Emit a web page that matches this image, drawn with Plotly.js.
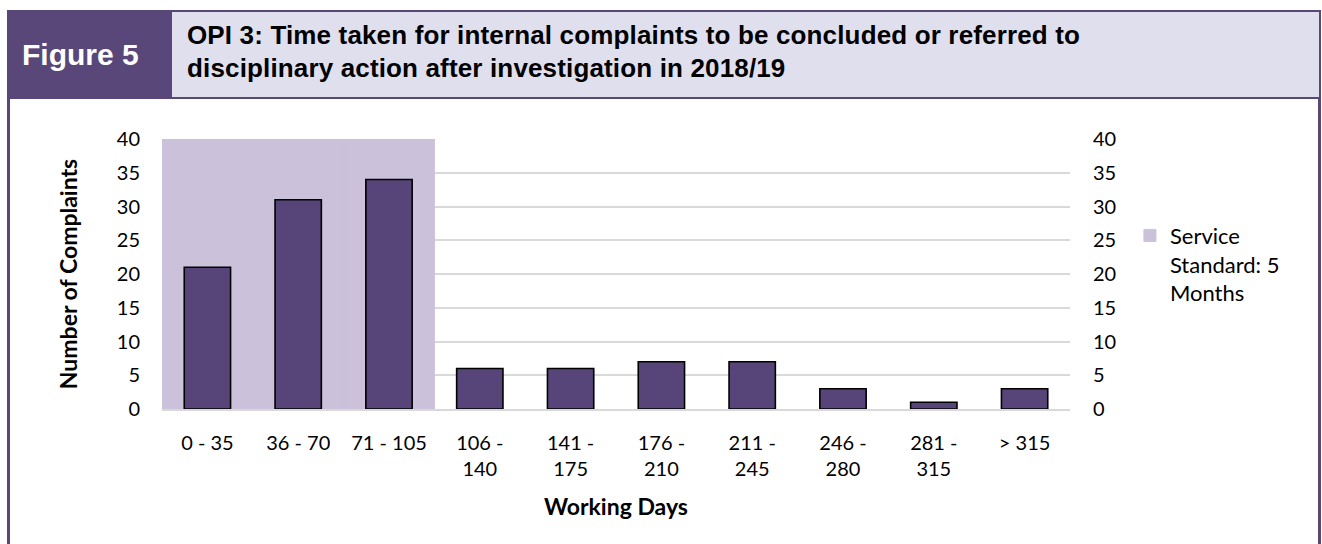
<!DOCTYPE html>
<html>
<head>
<meta charset="utf-8">
<script src="https://cdn.plot.ly/plotly-3.0.1.min.js"></script>
<style>
  body { margin: 0; background: #fff; width: 1322px; height: 544px; overflow: hidden; position: relative; }
  .box { position: absolute; box-sizing: border-box; }
  #figLabel { left: 7px; top: 10px; width: 166px; height: 89px; background: #594779;
    color: #fff; font: bold 30px "Liberation Sans", Arial, sans-serif;
    display: flex; align-items: center; padding-left: 15px; }
  #figTitle { left: 172px; top: 10px; width: 1149px; height: 89px; background: #e0dfee;
    border: 2.5px solid #594779; border-left: none; padding: 7px 0 0 15px;
    font: bold 26px/33px "Liberation Sans", Arial, sans-serif; letter-spacing: 0.15px; color: #000; }
  #lineL { left: 7px; top: 99px; width: 3px; height: 445px; background: #594779; }
  #lineR { left: 1318px; top: 99px; width: 3px; height: 445px; background: #594779; }
  #chart { position: absolute; left: 0; top: 0; width: 1322px; height: 544px; }
</style>
</head>
<body>
<div class="box" id="figLabel">Figure 5</div>
<div class="box" id="figTitle">OPI 3: Time taken for internal complaints to be concluded or referred to<br>disciplinary action after investigation in 2018/19</div>
<div class="box" id="lineL"></div>
<div class="box" id="lineR"></div>
<div id="chart"></div>
<script>
// working-day bands
const categories = ['0 - 35', '36 - 70', '71 - 105', '106 -<br>140', '141 -<br>175',
  '176 -<br>210', '211 -<br>245', '246 -<br>280', '281 -<br>315', '> 315'];
// number of complaints concluded in each band
const complaints = [21, 31, 34, 6, 6, 7, 7, 3, 1, 3];
// shaded service standard (first three bands, to the top of the axis)
const serviceStandard = [40, 40, 40, null, null, null, null, null, null, null];
const yTicks = [0, 5, 10, 15, 20, 25, 30, 35, 40];

const purple = '#574478';
const lilac = '#cbc1db';
const font = 'Lato, "Open Sans", sans-serif';

// band behind the bars
let band = {
  type: 'bar',
  x: categories,
  y: serviceStandard,
  width: 1,
  name: 'Service<br>Standard: 5<br>Months',
  marker: { color: lilac, line: { color: lilac, width: 1 } },
  hoverinfo: 'skip',
  yaxis: 'y'
};

let bars = {
  type: 'bar',
  x: categories,
  y: complaints,
  width: 0.51,
  showlegend: false,
  marker: { color: purple, line: { color: '#000', width: 1.6 } },
  yaxis: 'y2'
};

let layout = {
  width: 1322,
  height: 544,
  margin: { l: 162, r: 252, t: 139, b: 135 },
  paper_bgcolor: 'rgba(0,0,0,0)',
  plot_bgcolor: 'rgba(0,0,0,0)',
  barmode: 'overlay',
  font: { family: font, size: 20, color: '#000' },
  xaxis: {
    type: 'category',
    automargin: true,
    showline: true,
    linecolor: '#d9d9d9',
    linewidth: 1.5,
    ticks: '',
    ticklabelstandoff: 15,
    tickfont: { family: font, size: 20, color: '#000' },
    title: { text: '<b>Working Days</b>', standoff: 20, font: { family: font, size: 23, color: '#000' } }
  },
  yaxis: {
    range: [0, 40],
    automargin: true,
    tickvals: yTicks,
    showgrid: true,
    gridcolor: '#d9d9d9',
    gridwidth: 1.5,
    zeroline: false,
    ticks: '',
    ticklabelstandoff: 21,
    tickfont: { family: font, size: 20, color: '#000' },
    title: { text: '<b>Number of Complaints</b>', standoff: 32, font: { family: font, size: 23, color: '#000' } }
  },
  yaxis2: {
    overlaying: 'y',
    side: 'right',
    range: [0, 40],
    tickvals: yTicks,
    showgrid: false,
    zeroline: false,
    ticks: '',
    ticklabelstandoff: 22,
    tickfont: { family: font, size: 20, color: '#000' }
  },
  legend: {
    x: 1.066,
    y: 0.72,
    xanchor: 'left',
    yanchor: 'top',
    valign: 'top',
    bgcolor: 'rgba(0,0,0,0)',
    font: { family: font, size: 22, color: '#000' }
  }
};

Plotly.newPlot('chart', [band, bars], layout, { displayModeBar: false, responsive: false });
</script>
</body>
</html>
